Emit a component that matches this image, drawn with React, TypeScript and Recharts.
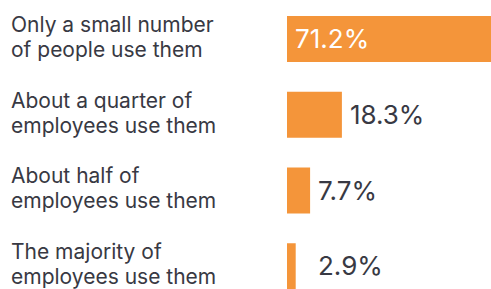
import { BarChart, Bar, XAxis, YAxis, LabelList } from 'recharts';

const labelTop = ['Only a small number', 'About a quarter of', 'About half of', 'The majority of'];
const labelBottom = ['of people use them', 'employees use them', 'employees use them', 'employees use them'];
const shares = [71.2, 18.3, 7.7, 2.9];

const data = shares.map((share, i) => ({ name: `${labelTop[i]} ${labelBottom[i]}`, share, i }));

const BAR = '#f4953a';
const TEXT = '#383943';

function CategoryTick(props: any) {
  const { y, payload } = props;
  const i = payload.index;
  return (
    <text x={11} y={y} fill={TEXT} fontSize={21} fontFamily="Inter" textAnchor="start">
      <tspan x={11} dy={-7}>{labelTop[i]}</tspan>
      <tspan x={11} dy={25}>{labelBottom[i]}</tspan>
    </text>
  );
}

function ValueLabel(props: any) {
  const { x, y, width, height, value, index } = props;
  const inside = index === 0;
  const tx = inside ? x + 8 : Math.max(x + width + 8, x + 31);
  return (
    <text
      x={tx}
      y={y + height / 2}
      dy={9}
      fill={inside ? '#ffffff' : TEXT}
      fontSize={26}
      fontFamily="Inter"
      textAnchor="start"
    >
      {`${value}%`}
    </text>
  );
}

export default function App() {
  return (
    <div style={{ position: 'absolute', left: 0, top: 0, background: '#fff' }}>
      <BarChart
        width={491}
        height={304}
        data={data}
        layout="vertical"
        margin={{ top: 1, right: 0, left: 0, bottom: 0 }}
      >
        <XAxis type="number" domain={[0, 68]} allowDataOverflow hide />
        <YAxis
          type="category"
          dataKey="name"
          width={287}
          axisLine={false}
          tickLine={false}
          tick={<CategoryTick />}
        />
        <Bar dataKey="share" fill={BAR} barSize={46} isAnimationActive={false}>
          <LabelList dataKey="share" content={<ValueLabel />} />
        </Bar>
      </BarChart>
    </div>
  );
}
